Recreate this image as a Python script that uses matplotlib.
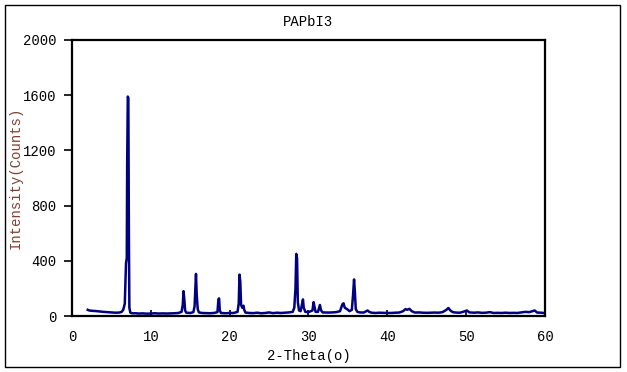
import matplotlib
matplotlib.use("Agg")
import matplotlib.pyplot as plt
from matplotlib.patches import Rectangle

# 2-theta (deg) and intensity (counts)
two_theta = [2.0, 2.2, 2.5, 3.0, 3.5, 4.0, 4.5, 5.0, 5.5, 6.0, 6.3, 6.5, 6.7, 6.85, 6.95,
             7.0, 7.08, 7.15, 7.22, 7.28, 7.4, 7.6, 8.0, 8.5, 9.0, 9.5, 10.0, 10.5, 11.0,
             11.5, 12.0, 12.5, 13.0, 13.5, 13.9, 14.05, 14.15, 14.25, 14.35, 14.5, 15.0,
             15.4, 15.55, 15.65, 15.73, 15.82, 15.95, 16.1, 16.5, 17.0, 17.5, 18.0, 18.45,
             18.58, 18.66, 18.75, 18.9, 19.5, 20.0, 20.5, 21.0, 21.15, 21.25, 21.35, 21.45,
             21.6, 21.75, 21.85, 22.0, 22.5, 23.0, 23.5, 24.0, 24.5, 25.0, 25.5, 26.0, 26.5,
             27.0, 27.5, 28.0, 28.2, 28.35, 28.45, 28.55, 28.65, 28.8, 29.0, 29.2, 29.3,
             29.4, 29.6, 30.0, 30.5, 30.65, 30.75, 30.9, 31.2, 31.45, 31.6, 31.8, 32.5,
             33.0, 33.5, 34.0, 34.3, 34.45, 34.6, 34.9, 35.2, 35.5, 35.65, 35.78, 35.88,
             36.0, 36.2, 36.5, 37.0, 37.5, 37.7, 38.0, 38.5, 39.0, 39.5, 40.0, 40.5, 41.0,
             41.5, 42.0, 42.3, 42.5, 42.8, 43.1, 43.5, 44.0, 44.5, 45.0, 45.5, 46.0, 46.5,
             47.0, 47.5, 47.75, 48.0, 48.3, 48.7, 49.2, 49.6, 50.1, 50.4, 51.0, 51.5, 52.0,
             52.5, 53.0, 53.5, 54.0, 54.5, 55.0, 55.5, 56.0, 56.5, 57.0, 57.5, 58.0, 58.4,
             58.7, 59.0, 59.5, 59.8, 60.0]
counts = [45, 40, 38, 36, 33, 30, 28, 26, 24, 25, 30, 45, 90, 380, 420,
          1100, 1590, 1580, 600, 60, 25, 20, 20, 18, 19, 17, 18, 20, 18,
          19, 18, 19, 20, 22, 30, 80, 180, 120, 40, 24, 22,
          28, 70, 200, 305, 160, 50, 26, 22, 21, 20, 22, 28,
          120, 128, 40, 22, 20, 22, 22, 30, 90, 300, 250, 80,
          60, 75, 45, 25, 22, 21, 24, 20, 22, 26, 21, 24, 22,
          24, 26, 30, 60, 200, 450, 420, 100, 40, 35, 90, 120,
          60, 30, 28, 40, 100, 70, 30, 30, 80, 40, 26, 25,
          26, 28, 35, 85, 92, 60, 50, 35, 45, 150, 265, 180,
          50, 30, 26, 25, 40, 30, 24, 22, 24, 23, 22, 22, 24,
          25, 35, 50, 45, 52, 35, 25, 26, 24, 23, 24, 25, 24,
          28, 45, 58, 40, 28, 25, 24, 30, 40, 26, 24, 26, 23,
          24, 28, 22, 23, 22, 24, 22, 23, 22, 26, 30, 28, 35,
          40, 25, 24, 22, 22]

x_ticks = [0, 10, 20, 30, 40, 50, 60]
y_ticks = [0, 400, 800, 1200, 1600, 2000]

plt.rcParams['font.family'] = ['Liberation Mono', 'DejaVu Sans Mono']
plt.rcParams['font.size'] = 10

fig = plt.figure(figsize=(6.27, 3.72), dpi=100)
ax = fig.add_axes([0.1148, 0.1505, 0.7544, 0.742])

ax.plot(two_theta, counts, color='#000080', lw=1.8)

ax.set_xlim(0, 60)
ax.set_ylim(0, 2000)
ax.set_xticks(x_ticks)
ax.set_yticks(y_ticks)
ax.tick_params(axis='x', direction='in', length=4, width=1.2, pad=10)
ax.tick_params(axis='y', direction='out', length=6, width=1.2, pad=5)
for s in ax.spines.values():
    s.set_linewidth(1.6)

ax.set_title('PAPbI3', fontsize=10, pad=10)
ax.set_xlabel('2-Theta(o)', labelpad=4)
ax.set_ylabel('Intensity(Counts)', color='#804030')
ax.yaxis.set_label_coords(-0.105, 0.5)

# outer frame around the whole chart
fig.patches.append(Rectangle((0.008, 0.013), 0.981, 0.973, transform=fig.transFigure,
                             fill=False, edgecolor='black', lw=1.0))

fig.savefig('out.png', dpi=100)
